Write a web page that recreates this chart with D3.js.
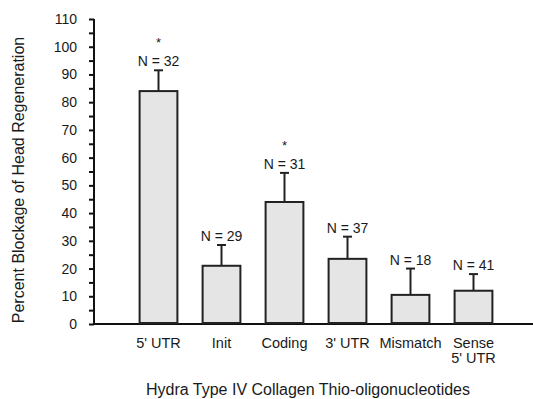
<!DOCTYPE html>
<html>
<head>
<meta charset="utf-8">
<script src="https://cdn.jsdelivr.net/npm/d3@7"></script>
<style>
html,body{margin:0;padding:0;background:#fff;}
svg{display:block;font-family:"Liberation Sans",Arial,sans-serif;}
</style>
</head>
<body>
<svg id="chart" width="533" height="399"></svg>
<script>
const categories = ["5' UTR", "Init", "Coding", "3' UTR", "Mismatch", "Sense\n5' UTR"];
const values = [84, 21, 44, 23.5, 10.5, 12];
const errorTops = [91.5, 28.5, 54.5, 31.5, 20, 18];
const nLabels = ["N = 32", "N = 29", "N = 31", "N = 37", "N = 18", "N = 41"];
const significant = [true, false, true, false, false, false];
const yTicks = [0, 10, 20, 30, 40, 50, 60, 70, 80, 90, 100, 110];

const svg = d3.select("#chart");
const x = d3.scaleBand().domain(categories).range([127, 505]).paddingInner(0.4).paddingOuter(0.2);
const y = d3.scaleLinear().domain([0, 110]).range([324, 19]);
const axisX = 94;

// y axis
const yAxis = d3.axisLeft(y).tickValues(d3.range(0, 111, 5)).tickSize(5)
  .tickFormat(d => yTicks.includes(d) ? d : "");
const gy = svg.append("g").attr("transform", `translate(${axisX},0)`).call(yAxis);
gy.select(".domain").attr("stroke", "#111").attr("stroke-width", 2).attr("d", `M0,${y(0)}V${y(110)}`);
gy.selectAll(".tick line").attr("stroke", "#111").attr("stroke-width", 2);
gy.selectAll(".tick text").attr("x", -17).attr("font-size", 14).attr("fill", "#1a1a1a")
  .attr("font-family", "Liberation Sans, Arial, sans-serif");

// baseline
svg.append("line").attr("x1", axisX).attr("x2", 533).attr("y1", y(0)).attr("y2", y(0))
  .attr("stroke", "#111").attr("stroke-width", 2);

// bars
svg.selectAll("rect.bar").data(categories).enter().append("rect")
  .attr("class", "bar")
  .attr("x", d => x(d)).attr("width", x.bandwidth())
  .attr("y", (d, i) => y(values[i])).attr("height", (d, i) => y(0) - y(values[i]) - 1)
  .attr("fill", "#e5e5e5").attr("stroke", "#222").attr("stroke-width", 2);

// error bars
const cap = 9;
categories.forEach((c, i) => {
  const cx = x(c) + x.bandwidth() / 2;
  svg.append("line").attr("x1", cx).attr("x2", cx).attr("y1", y(values[i])).attr("y2", y(errorTops[i]))
    .attr("stroke", "#222").attr("stroke-width", 2);
  svg.append("line").attr("x1", cx - cap / 2).attr("x2", cx + cap / 2).attr("y1", y(errorTops[i])).attr("y2", y(errorTops[i]))
    .attr("stroke", "#222").attr("stroke-width", 2);
  svg.append("text").attr("x", cx).attr("y", y(errorTops[i]) - 4).attr("text-anchor", "middle")
    .attr("font-size", 14).attr("fill", "#1a1a1a").text(nLabels[i]);
  if (significant[i]) {
    svg.append("text").attr("x", cx).attr("y", y(errorTops[i]) - 23).attr("text-anchor", "middle")
      .attr("font-size", 13).attr("fill", "#1a1a1a").text("*");
  }
  const lines = c.split("\n");
  lines.forEach((ln, k) => {
    svg.append("text").attr("x", cx).attr("y", 348 + k * 15).attr("text-anchor", "middle")
      .attr("font-size", 14.5).attr("fill", "#1a1a1a").text(ln);
  });
});

// axis titles
svg.append("text").attr("x", 308).attr("y", 395).attr("text-anchor", "middle")
  .attr("font-size", 16).attr("fill", "#1a1a1a").text("Hydra Type IV Collagen Thio-oligonucleotides");
svg.append("text").attr("transform", "translate(24,180) rotate(-90)").attr("text-anchor", "middle")
  .attr("font-size", 16).attr("fill", "#1a1a1a").text("Percent Blockage of Head Regeneration");
</script>
</body>
</html>
